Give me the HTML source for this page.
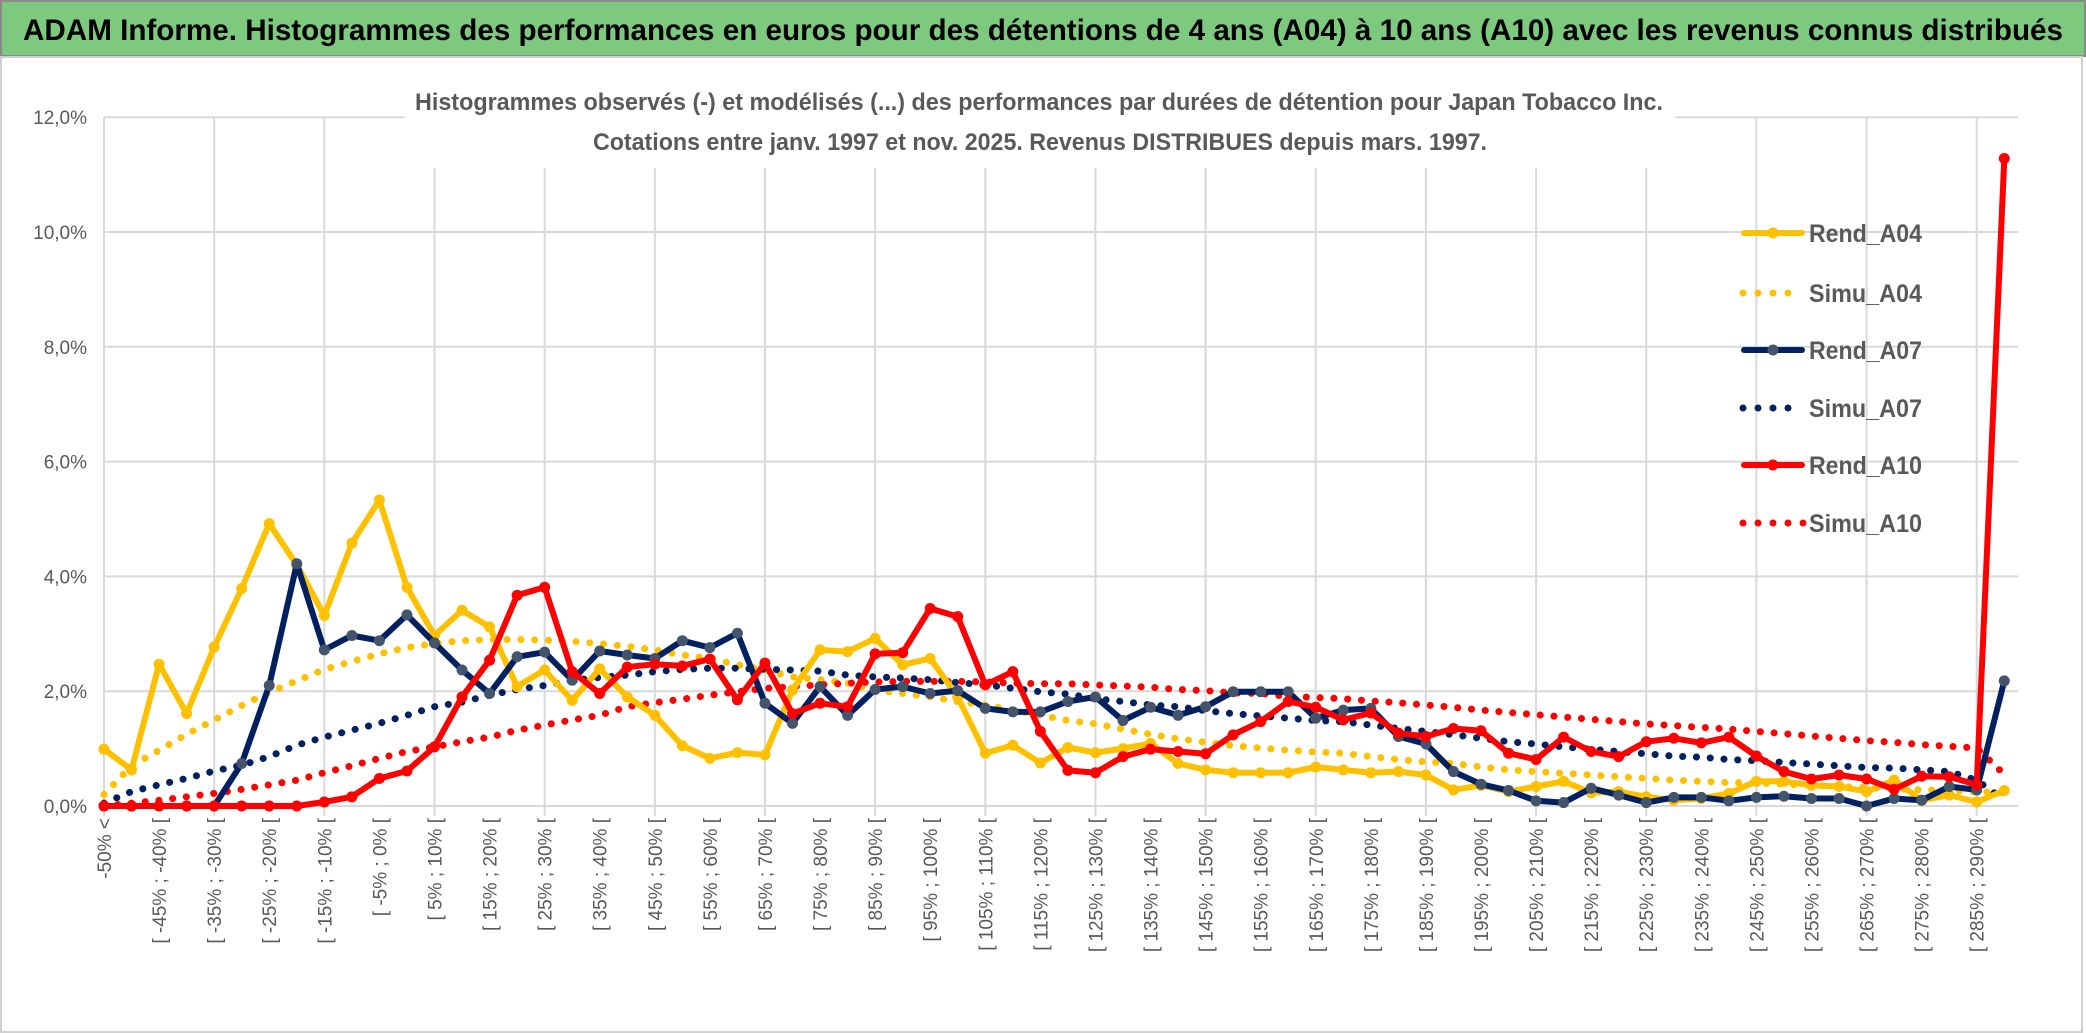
<!DOCTYPE html>
<html><head><meta charset="utf-8"><style>
html,body{margin:0;padding:0;background:#fff;}
svg{display:block;font-family:"Liberation Sans",sans-serif;}
</style></head><body>
<svg id="chart" width="2086" height="1033" viewBox="0 0 2086 1033">
<rect x="0" y="0" width="2086" height="1033" fill="#fff"/>
<rect x="1" y="1" width="2084" height="55" fill="#7DC97E" stroke="#8a8a8a" stroke-width="2"/>
<text x="1043" y="40" text-anchor="middle" font-size="30" font-weight="bold" fill="#000" textLength="2040" lengthAdjust="spacingAndGlyphs">ADAM Informe. Histogrammes des performances en euros pour des détentions de 4 ans (A04) à 10 ans (A10) avec les revenus connus distribués</text>
<rect x="1" y="57" width="2081" height="975" fill="none" stroke="#d0d0d0" stroke-width="2"/>
<g id="grid"></g>
<g id="yaxis"></g>
<g id="xaxis"></g>
<rect x="405" y="78" width="1270" height="90" fill="#fff"/>
<text x="1039" y="110" text-anchor="middle" font-size="24" font-weight="bold" fill="#595959" textLength="1248" lengthAdjust="spacingAndGlyphs">Histogrammes observés (-) et modélisés (...) des performances par durées de détention pour Japan Tobacco Inc.</text>
<text x="1040" y="150" text-anchor="middle" font-size="24" font-weight="bold" fill="#595959" textLength="894" lengthAdjust="spacingAndGlyphs">Cotations entre janv. 1997 et nov. 2025. Revenus DISTRIBUES depuis mars. 1997.</text>
<g id="series"></g>
<g id="legend"></g>
</svg>
<script>
const categoryStarts = [];
for (let v = -50; v <= 290; v += 5) categoryStarts.push(v);
const yTicks = [0, 2, 4, 6, 8, 10, 12];
const rendA04 = [0.99,0.63,2.47,1.61,2.77,3.79,4.92,4.2,3.32,4.58,5.33,3.81,2.97,3.41,3.12,2.08,2.37,1.84,2.39,1.9,1.58,1.05,0.83,0.93,0.89,2.02,2.72,2.69,2.92,2.46,2.57,1.9,0.92,1.06,0.75,1.02,0.93,1.0,1.09,0.74,0.63,0.58,0.58,0.58,0.68,0.63,0.58,0.6,0.54,0.28,0.36,0.25,0.34,0.43,0.23,0.25,0.16,0.1,0.13,0.22,0.43,0.43,0.36,0.34,0.25,0.45,0.1,0.19,0.07,0.27];
const simuA04 = [0.2,0.7,0.97,1.25,1.5,1.75,1.98,2.18,2.38,2.52,2.65,2.76,2.83,2.88,2.9,2.9,2.89,2.87,2.83,2.78,2.72,2.63,2.57,2.46,2.37,2.25,2.2,2.14,2.02,1.96,1.9,1.82,1.76,1.67,1.58,1.49,1.43,1.34,1.25,1.17,1.11,1.05,1.01,0.97,0.94,0.92,0.86,0.81,0.77,0.74,0.68,0.63,0.6,0.57,0.54,0.51,0.48,0.45,0.43,0.41,0.4,0.38,0.36,0.34,0.32,0.3,0.28,0.27,0.25,0.23];
const rendA07 = [0,0,0,0,0,0.74,2.1,4.22,2.72,2.97,2.88,3.33,2.84,2.37,1.96,2.6,2.68,2.19,2.7,2.63,2.57,2.88,2.76,3.01,1.79,1.44,2.08,1.58,2.03,2.08,1.96,2.01,1.7,1.64,1.64,1.82,1.9,1.49,1.72,1.58,1.73,1.99,1.99,1.99,1.53,1.67,1.7,1.21,1.08,0.6,0.38,0.27,0.09,0.06,0.31,0.19,0.06,0.15,0.15,0.09,0.15,0.17,0.13,0.13,0.0,0.13,0.1,0.34,0.28,2.18];
const simuA07 = [0.05,0.25,0.37,0.48,0.61,0.71,0.86,1.06,1.2,1.32,1.44,1.58,1.73,1.81,1.93,2.03,2.1,2.19,2.24,2.28,2.34,2.38,2.4,2.4,2.38,2.37,2.35,2.28,2.25,2.23,2.2,2.15,2.11,2.05,1.99,1.95,1.87,1.82,1.76,1.73,1.66,1.61,1.57,1.53,1.49,1.47,1.41,1.35,1.3,1.24,1.18,1.12,1.08,1.03,0.99,0.95,0.91,0.87,0.85,0.81,0.79,0.76,0.73,0.7,0.67,0.66,0.63,0.6,0.45,0.1];
const rendA10 = [0,0,0,0,0,0,0,0,0.07,0.16,0.48,0.61,1.03,1.9,2.54,3.67,3.81,2.34,1.96,2.42,2.47,2.44,2.56,1.85,2.49,1.61,1.79,1.73,2.65,2.67,3.44,3.3,2.11,2.34,1.3,0.62,0.58,0.86,0.99,0.95,0.91,1.24,1.47,1.82,1.72,1.5,1.62,1.27,1.21,1.35,1.31,0.92,0.81,1.2,0.95,0.86,1.12,1.18,1.1,1.2,0.87,0.6,0.47,0.54,0.47,0.29,0.52,0.51,0.37,11.28];
const simuA10 = [0,0.05,0.1,0.16,0.22,0.29,0.37,0.45,0.58,0.7,0.83,0.95,1.03,1.12,1.2,1.32,1.41,1.5,1.58,1.73,1.8,1.86,1.93,1.99,2.05,2.08,2.11,2.14,2.16,2.17,2.17,2.17,2.16,2.14,2.13,2.13,2.11,2.09,2.07,2.03,2.01,1.97,1.96,1.91,1.89,1.87,1.83,1.8,1.76,1.72,1.67,1.63,1.59,1.55,1.51,1.47,1.43,1.4,1.37,1.34,1.3,1.26,1.22,1.18,1.14,1.11,1.07,1.04,1.01,0.55];
const legendLabels = ["Rend_A04","Simu_A04","Rend_A07","Simu_A07","Rend_A10","Simu_A10"];

const NS = "http://www.w3.org/2000/svg";
const X0 = 104, XSTEP = 27.54, Y0 = 806, YPER = 57.4;
function xPos(i){ return X0 + i * XSTEP; }
function yPos(v){ return Y0 - v * YPER; }
function mk(tag, attrs, parent){ const e = document.createElementNS(NS, tag); for (const k in attrs) e.setAttribute(k, attrs[k]); parent.appendChild(e); return e; }

const nCat = categoryStarts.length + 1;
const labels = ["-50% <"];
for (let i = 1; i < nCat; i++) { const a = categoryStarts[i-1]; labels.push("[ " + a + "% ; " + (a+5) + "% ["); }

const grid = document.getElementById('grid');
yTicks.forEach(t => {
  const l = mk('line', {x1: X0, x2: xPos(nCat-1)+14, y1: yPos(t), y2: yPos(t), stroke: '#d9d9d9', 'stroke-width': 2}, grid);
  
  
});
for (let i = 0; i < nCat; i += 4) {
  const l = mk('line', {x1: xPos(i), x2: xPos(i), y1: yPos(12), y2: Y0 + 10, stroke: '#d9d9d9', 'stroke-width': 2}, grid);
  
  
}
const yaxis = document.getElementById('yaxis');
yTicks.forEach(t => {
  const tx = mk('text', {x: 87, y: yPos(t) + 7, 'text-anchor': 'end', 'font-size': 19, fill: '#595959'}, yaxis);
  tx.textContent = t.toFixed(1).replace('.', ',') + '%';
  
  
});
const xaxis = document.getElementById('xaxis');
for (let i = 0; i < nCat; i += 2) {
  const tx = mk('text', {x: 0, y: 0, 'text-anchor': 'end', 'font-size': 19, fill: '#595959', transform: 'translate(' + (xPos(i) + 7) + ',818) rotate(-90)'}, xaxis);
  tx.textContent = labels[i];
  
  
}

const series = document.getElementById('series');
const defs = [
  {d: simuA04, c: '#FFC000', dot: true, name: 'simu-a04-line'},
  {d: simuA07, c: '#002060', dot: true, name: 'simu-a07-line'},
  {d: simuA10, c: '#FF0000', dot: true, name: 'simu-a10-line'},
  {d: rendA04, c: '#FFC000', m: '#FFC000', name: 'rend-a04-line'},
  {d: rendA07, c: '#002060', m: '#44546A', name: 'rend-a07-line'},
  {d: rendA10, c: '#FF0000', m: '#FF0000', name: 'rend-a10-line'}
];
defs.forEach(s => {
  const pts = s.d.map((v, i) => xPos(i).toFixed(1) + ',' + yPos(v).toFixed(1)).join(' ');
  const attrs = {points: pts, fill: 'none', stroke: s.c, 'stroke-linejoin': 'round', 'stroke-linecap': 'round'};
  if (s.dot) { attrs['stroke-width'] = 7; attrs['stroke-dasharray'] = '0.1 13.7'; }
  else { attrs['stroke-width'] = 6; }
  const pl = mk('polyline', attrs, series);
  
  
  if (!s.dot) {
    s.d.forEach((v, i) => {
      const c = mk('circle', {cx: xPos(i), cy: yPos(v), r: 5.5, fill: s.m}, series);
      
      
    });
  }
});

const legend = document.getElementById('legend');
const lgColors = ['#FFC000','#FFC000','#002060','#002060','#FF0000','#FF0000'];
const lgMarker = ['#FFC000',null,'#44546A',null,'#FF0000',null];
const lgY = [233, 293, 350, 408, 465, 523];
legendLabels.forEach((lab, k) => {
  const y = lgY[k];
  const g = mk('g', {}, legend);
  
  
  if (lgMarker[k]) {
    mk('line', {x1: 1744, x2: 1802, y1: y, y2: y, stroke: lgColors[k], 'stroke-width': 6, 'stroke-linecap': 'round'}, g);
    mk('circle', {cx: 1773, cy: y, r: 5.5, fill: lgMarker[k]}, g);
  } else {
    const n = k === 5 ? 5 : 4;
    for (let j = 0; j < n; j++) mk('circle', {cx: 1743 + j * 15, cy: y, r: 3.5, fill: lgColors[k]}, g);
  }
  const t = mk('text', {x: 1809, y: y + 9, 'font-size': 25, 'font-weight': 'bold', fill: '#595959', textLength: 113, lengthAdjust: 'spacingAndGlyphs'}, g);
  t.textContent = lab;
});
</script>
</body></html>
